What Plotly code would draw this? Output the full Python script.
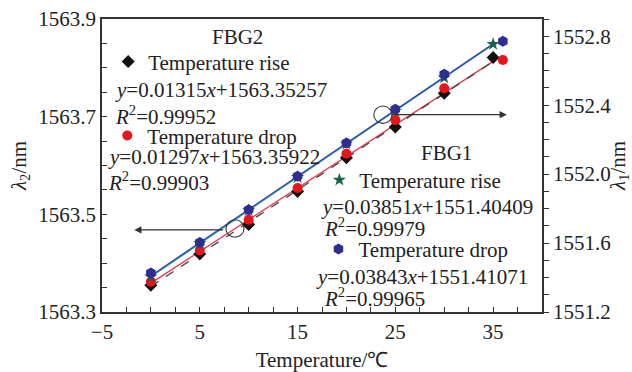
import plotly.graph_objects as go

# ---------------- data ----------------
x_rise = [0, 5, 10, 15, 20, 25, 30, 35]
x_drop = [0, 5, 10, 15, 20, 25, 30, 36]

fbg2_rise = [1563.355, 1563.419, 1563.479, 1563.547, 1563.616, 1563.679, 1563.748, 1563.821]
fbg2_drop = [1563.362, 1563.426, 1563.489, 1563.554, 1563.624, 1563.693, 1563.758, 1563.816]
fbg1_rise = [1551.405, 1551.598, 1551.790, 1551.982, 1552.175, 1552.366, 1552.560, 1552.754]
fbg1_drop = [1551.426, 1551.603, 1551.793, 1551.988, 1552.181, 1552.376, 1552.580, 1552.771]

fit_x = [0, 35]
fit2_rise = [1563.35257, 1563.81282]
fit2_drop = [1563.35922, 1563.81317]
fit1_rise = [1551.40409, 1552.75194]
fit1_drop = [1551.41071, 1552.75576]

eq_texts = {
    "e2r": "<i>y</i>=0.01315<i>x</i>+1563.35257",
    "r2r": "<i>R</i><sup>2</sup>=0.99952",
    "e2d": "<i>y</i>=0.01297<i>x</i>+1563.35922",
    "r2d": "<i>R</i><sup>2</sup>=0.99903",
    "e1r": "<i>y</i>=0.03851<i>x</i>+1551.40409",
    "r1r": "<i>R</i><sup>2</sup>=0.99979",
    "e1d": "<i>y</i>=0.03843<i>x</i>+1551.41071",
    "r1d": "<i>R</i><sup>2</sup>=0.99965",
}

FONT = "Liberation Serif, Times New Roman, serif"
FS = 21
TXT = "#222222"
AX = "#333333"

fig = go.Figure()

# fit lines
fig.add_trace(go.Scatter(x=fit_x, y=fit1_rise, yaxis="y2", mode="lines",
                         line=dict(color="#2a9d9a", width=1.3), showlegend=False))
fig.add_trace(go.Scatter(x=fit_x, y=fit1_drop, yaxis="y2", mode="lines",
                         line=dict(color="#2f45b0", width=1.3), showlegend=False))
fig.add_trace(go.Scatter(x=fit_x, y=fit2_drop, mode="lines",
                         line=dict(color="#e8374f", width=1.3), showlegend=False))
fig.add_trace(go.Scatter(x=fit_x, y=fit2_rise, mode="lines",
                         line=dict(color="#444444", width=1.3, dash="dash"), showlegend=False))

# markers
fig.add_trace(go.Scatter(x=x_rise, y=fbg2_rise, mode="markers", name="Temperature rise",
                         marker=dict(symbol="diamond", size=10, color="#111111"),
                         legend="legend"))
fig.add_trace(go.Scatter(x=x_drop, y=fbg2_drop, mode="markers", name="Temperature drop",
                         marker=dict(symbol="circle", size=10, color="#e8161b"),
                         legend="legend2"))
fig.add_trace(go.Scatter(x=x_rise, y=fbg1_rise, yaxis="y2", mode="markers", name="Temperature rise",
                         marker=dict(symbol="star", size=10, color="#17614c"),
                         legend="legend3"))
fig.add_trace(go.Scatter(x=x_drop, y=fbg1_drop, yaxis="y2", mode="markers", name="Temperature drop",
                         marker=dict(symbol="hexagon", size=11, color="#2d2d92"),
                         legend="legend4"))

def leg(x, y):
    return dict(x=x, y=y, xanchor="left", yanchor="middle", bgcolor="rgba(0,0,0,0)",
                borderwidth=0, font=dict(family=FONT, size=FS, color=TXT),
                itemwidth=30, tracegroupgap=0)

annotations = []
def txt(text, x, y, xanchor="left"):
    annotations.append(dict(text=text, x=x, y=y, xref="paper", yref="paper",
                            xanchor=xanchor, yanchor="middle", showarrow=False,
                            font=dict(family=FONT, size=FS, color=TXT)))

txt("FBG2", 0.309, 0.939, "center")
txt(eq_texts["e2r"], 0.024, 0.758)
txt(eq_texts["r2r"], 0.026, 0.672)
txt(eq_texts["e2d"], 0.008, 0.529)
txt(eq_texts["r2d"], 0.010, 0.444)
txt("FBG1", 0.782, 0.543, "center")
txt(eq_texts["e1r"], 0.494, 0.358)
txt(eq_texts["r1r"], 0.499, 0.290)
txt(eq_texts["e1d"], 0.481, 0.119)
txt(eq_texts["r1d"], 0.501, 0.051)

# arrows
annotations.append(dict(x=-1.7, y=1563.468, ax=7.55, ay=1563.468, xref="x", yref="y",
                        axref="x", ayref="y", text="", showarrow=True, arrowhead=2,
                        arrowsize=1.2, arrowwidth=1.2, arrowcolor="#333333"))
annotations.append(dict(x=36.4, y=1563.704, ax=24.7, ay=1563.704, xref="x", yref="y",
                        axref="x", ayref="y", text="", showarrow=True, arrowhead=2,
                        arrowsize=1.2, arrowwidth=1.2, arrowcolor="#333333"))

shapes = [
    dict(type="circle", xref="x", yref="y", x0=8.6 - 0.93, x1=8.6 + 0.93,
         y0=1563.471 - 0.0178, y1=1563.471 + 0.0178, line=dict(color="#333333", width=1.1)),
    dict(type="circle", xref="x", yref="y", x0=23.73 - 0.93, x1=23.73 + 0.93,
         y0=1563.704 - 0.0178, y1=1563.704 + 0.0178, line=dict(color="#333333", width=1.1)),
]

fig.update_layout(
    width=632, height=372,
    margin=dict(l=102, r=90, t=19, b=60),
    paper_bgcolor="white", plot_bgcolor="white",
    font=dict(family=FONT, size=FS, color=TXT),
    legend=leg(0.014, 0.854),
    legend2=leg(0.012, 0.601),
    legend3=leg(0.494, 0.450),
    legend4=leg(0.492, 0.214),
    annotations=annotations,
    shapes=shapes,
    xaxis=dict(range=[-5, 40], tick0=-5, dtick=10, ticks="inside", ticklen=5, tickwidth=1.2,
               tickcolor=AX, minor=dict(tick0=-5, dtick=2.5, ticks="inside", ticklen=5, tickcolor=AX, tickwidth=1.2),
               showline=True, linecolor=AX, linewidth=1.5, mirror=True,
               showgrid=False, zeroline=False, automargin=False,
               tickfont=dict(family=FONT, size=FS, color=TXT),
               title=dict(text="Temperature/℃", font=dict(family=FONT, size=FS, color=TXT), standoff=10)),
    yaxis=dict(range=[1563.3, 1563.9], tick0=1563.3, dtick=0.2, tickformat=".1f",
               ticks="inside", ticklen=5, tickwidth=1.2, tickcolor=AX,
               minor=dict(tick0=1563.3, dtick=0.05, ticks="inside", ticklen=5, tickcolor=AX, tickwidth=1.2),
               showline=True, linecolor=AX, linewidth=1.5, showgrid=False, zeroline=False,
               automargin=False,
               tickfont=dict(family=FONT, size=FS, color=TXT),
               title=dict(text="<i>λ</i><sub>2</sub>/nm", font=dict(family=FONT, size=FS, color=TXT), standoff=6)),
    yaxis2=dict(range=[1551.2, 1552.9], tick0=1551.2, dtick=0.4, tickformat=".1f",
                overlaying="y", side="right",
                ticks="outside", ticklen=5, tickwidth=1.2, tickcolor=AX,
                minor=dict(tick0=1551.2, dtick=0.1, ticks="outside", ticklen=5, tickcolor=AX, tickwidth=1.2),
                showline=True, linecolor=AX, linewidth=1.5, showgrid=False, zeroline=False,
                automargin=False,
                tickfont=dict(family=FONT, size=FS, color=TXT),
                title=dict(text="<i>λ</i><sub>1</sub>/nm", font=dict(family=FONT, size=FS, color=TXT), standoff=8)),
)

fig.write_html("out.html")
